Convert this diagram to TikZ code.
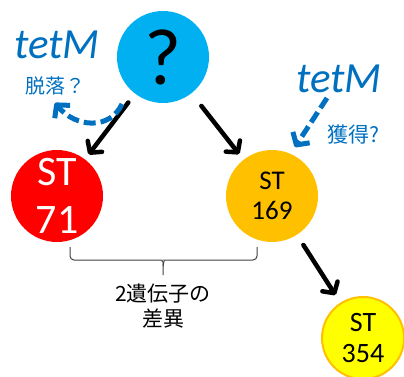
\documentclass[tikz,border=0pt]{standalone}
\usepackage{fontspec}
\setmainfont{Carlito}
\newfontfamily\cjk{Noto Sans CJK JP}
\usetikzlibrary{arrows.meta}
\definecolor{cblue}{HTML}{00B0F0}
\definecolor{cred}{HTML}{FF0000}
\definecolor{cgold}{HTML}{FFC000}
\definecolor{cyel}{HTML}{FFFF00}
\definecolor{tblue}{HTML}{0070C0}
\definecolor{bracec}{HTML}{404040}
\begin{document}
\begin{tikzpicture}[x=1pt,y=-1pt,
  circ/.style={circle, inner sep=0pt, minimum size=#1, align=center},
  blk/.style={line width=4.5pt, black, line cap=round,
    -{Straight Barb[length=8pt,width=18pt,line cap=round,line join=round]}},
  bdash/.style={line width=5pt, tblue, dash pattern=on 12pt off 5pt,
    -{Straight Barb[length=9pt,width=20pt,line join=round]}},
  tetm/.style={text=tblue, font=\fontsize{43}{46}\selectfont\itshape},
  jlab/.style={text=tblue, font=\cjk\fontsize{20}{24}\selectfont},
  bracel/.style={line width=1pt, bracec, rounded corners=4pt}
]
\useasboundingbox (0,0) rectangle (404,377);

\node[circ=92pt, fill=cblue] (q) at (163,57) {};
\node[font=\fontsize{80}{84}\selectfont] (qm) at (163,57) {?};
\node[circ=92pt, fill=cred, text=white, font=\fontsize{42}{48}\selectfont] (st71) at (57,196) {ST\\71};
\node[circ=92pt, fill=cgold, text=black, font=\fontsize{27}{30}\selectfont] (st169) at (272,196) {ST\\169};
\node[circ=82pt, fill=cyel, draw=cgold, line width=2pt, text=black, font=\fontsize{28}{31}\selectfont] (st354) at (363,338) {ST\\354};

\draw[blk, shorten <=11pt, shorten >=6pt] (q) -- (st71);
\draw[blk, shorten <=16pt, shorten >=7pt] (q) -- (st169);
\draw[blk, shorten <=12pt, shorten >=9pt] (st169) -- (st354);

\node[tetm] (tl) at (57,45) {tetM};
\node[jlab] (dl) at (55,86) {脱落？};
\node[tetm] (tr) at (339,79) {tetM};
\node[jlab, font=\cjk\fontsize{21}{24}\selectfont] (gr) at (353,135) {獲得?};

\coordinate (ls) at (122,104);
\coordinate (le) at (55,103);
\draw[bdash] (ls) .. controls (110,130) and (76,128) .. (le);
\coordinate (rs) at (327,98);
\coordinate (re) at (295,147);
\draw[bdash] (rs) -- (re);

\draw[bracel] (70,247) -- (70,260) -- (158,260) to[out=0,in=90] (163,266) -- (163,275);
\draw[bracel] (257,247) -- (257,260) -- (168,260) to[out=180,in=90] (163,266);

\node[align=center, font=\cjk\fontsize{21}{25}\selectfont] (diff) at (163,306) {2遺伝子の\\差異};
\end{tikzpicture}
\end{document}
